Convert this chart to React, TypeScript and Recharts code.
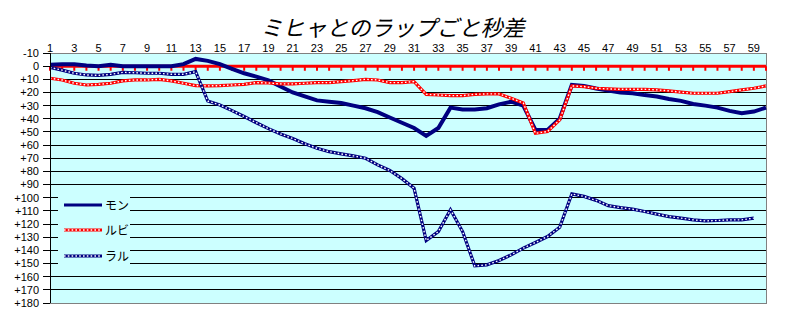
import React from 'react';
import {
    LineChart,
    Line,
    XAxis,
    YAxis,
    CartesianGrid,
    ReferenceLine,
    ReferenceArea,
    Legend,
} from 'recharts';

// lap numbers (category axis)
const LAPS = [
    1, 2, 3, 4, 5, 6, 7, 8, 9, 10, 11, 12, 13, 14, 15, 16, 17, 18, 19, 20,
    21, 22, 23, 24, 25, 26, 27, 28, 29, 30, 31, 32, 33, 34, 35, 36, 37, 38, 39, 40,
    41, 42, 43, 44, 45, 46, 47, 48, 49, 50, 51, 52, 53, 54, 55, 56, 57, 58, 59, 60,
];

// gap to ミヒャ in seconds, per lap
const MON = [
    -1, -1.5, -1.5, -0.5, 0, -1, 0, 0, 0, 0, 0, -1.5, -5.5, -4, -1.5, 2, 5.4, 8, 10.8, 15.5,
    20, 23, 26, 27, 28, 30, 32, 35, 39, 43, 47, 53, 47, 31.5, 33, 33, 32, 29, 27, 30,
    48.5, 48.5, 40, 14.3, 15, 17, 18.6, 20, 20.6, 22, 23, 25, 26.4, 28.7, 30, 31.5, 34, 35.8, 34.5, 31.5,
];

const RUBI = [
    9.2, 10.5, 13, 14.3, 13.8, 13, 11.2, 10.5, 10.5, 10, 11.2, 13, 14.8, 15, 14.8, 14.3, 13.8, 12.5, 12.8, 13.5,
    13.5, 13, 12.5, 12.5, 11.7, 11, 10, 10.5, 12.5, 12.5, 11.7, 21.4, 21.9, 22.4, 22.4, 21.4, 21.1, 21.1, 24.4, 28,
    51, 49.7, 40.9, 15, 15.5, 16.8, 17.3, 17.6, 17.6, 17.6, 18, 18.8, 19.8, 20.6, 20.6, 20.6, 19.4, 18, 16.8, 15,
];

const RARU = [
    1, 3, 5.4, 6.7, 7, 6.2, 4.7, 5, 5.4, 5.4, 6.2, 6.2, 4.2, 26.5, 29.5, 33.8, 38.3, 43, 47.5, 51.5,
    55, 59, 62.4, 65, 66.7, 68.2, 70, 75, 79.3, 85.5, 92.8, 132.5, 125.7, 109.2, 125.7, 151.8, 151, 147.7, 143.4, 138.3,
    134, 129.5, 122.4, 97.1, 99, 102, 106, 107.5, 108.7, 110.5, 112.5, 114.3, 115.5, 116.8, 117.6, 117.3, 116.8, 116.8, 115.5,
];

const Y_TICKS = [-10, 0, 10, 20, 30, 40, 50, 60, 70, 80, 90, 100, 110, 120, 130, 140, 150, 160, 170, 180];

const TITLE = 'ミヒャとのラップごと秒差';

const SERIES = [
    { key: 'mon', name: 'モン', color: '#000080', dotted: false },
    { key: 'rubi', name: 'ルビ', color: '#FF0000', dotted: true },
    { key: 'raru', name: 'ラル', color: '#000080', dotted: true },
];

const data = LAPS.map((lap, i) => ({
    lap,
    mon: MON[i],
    rubi: RUBI[i],
    raru: RARU[i] ?? null,
}));

const AXIS_FONT = { fontSize: 11, fill: '#000', fontFamily: 'Liberation Sans, Arial, sans-serif' };

const formatGap = (v: number) => (v > 0 ? `+${v}` : `${v}`);

const renderLegend = () => (
    <div style={{ paddingTop: 2 }}>
        {SERIES.map((s) => (
            <div key={s.key} style={{ display: 'flex', alignItems: 'center', height: 25.5 }}>
                <svg width={44} height={8} style={{ display: 'block' }}>
                    <line x1={6} y1={4} x2={44} y2={4} stroke={s.color} strokeWidth={3.2} />
                    {s.dotted && (
                        <line x1={6} y1={4} x2={44} y2={4} stroke="#fff" strokeWidth={1.4} strokeDasharray="1.6 2.2" />
                    )}
                </svg>
                <span
                    style={{
                        marginLeft: 3,
                        fontSize: 12,
                        lineHeight: '12px',
                        color: '#000',
                        fontFamily: '"Noto Sans CJK JP", sans-serif',
                    }}
                >
                    {s.name}
                </span>
            </div>
        ))}
    </div>
);

const App: React.FC = () => {
    return (
        <div style={{ position: 'relative', width: 785, height: 327, background: '#fff' }}>
            <style>{'body{margin:0}'}</style>
            <div
                style={{
                    position: 'absolute',
                    left: 0,
                    width: 785,
                    top: 15,
                    textAlign: 'center',
                    fontSize: 22,
                    lineHeight: '22px',
                    fontStyle: 'italic',
                    fontFamily: '"Noto Sans CJK JP", sans-serif',
                    color: '#000',
                    zIndex: 1,
                }}
            >
                {TITLE}
            </div>
            <LineChart
                width={785}
                height={327}
                data={data}
                margin={{ top: 0, right: 19, bottom: 24, left: 0 }}
            >
                <CartesianGrid vertical={false} stroke="#000" fill="#CCFFFF" fillOpacity={1} shapeRendering="crispEdges" />
                <XAxis
                    dataKey="lap"
                    type="category"
                    orientation="top"
                    height={53}
                    interval={1}
                    axisLine={false}
                    tickLine={false}
                    tickSize={0}
                    tickMargin={1}
                    tick={AXIS_FONT}
                />
                <YAxis
                    type="number"
                    domain={[-10, 180]}
                    ticks={Y_TICKS}
                    reversed
                    interval={0}
                    width={50}
                    axisLine={{ stroke: '#000', shapeRendering: 'crispEdges' }}
                    tickLine={{ stroke: '#000', shapeRendering: 'crispEdges' }}
                    tickSize={7}
                    tickMargin={4}
                    tick={AXIS_FONT}
                    tickFormatter={formatGap}
                />
                <ReferenceArea y1={-10} y2={180} fill="none" stroke="#808080" strokeWidth={1} shapeRendering="crispEdges" />
                <ReferenceLine y={0} stroke="#FF0000" strokeWidth={3} />
                {LAPS.map((lap) => (
                    <ReferenceLine
                        key={`t${lap}`}
                        segment={[{ x: lap, y: 0 }, { x: lap, y: 3.5 }]}
                        stroke="#FF0000"
                        strokeWidth={2}
                    />
                ))}

                <Line dataKey="mon" name="モン" type="linear" stroke="#000080" strokeWidth={4} dot={false} isAnimationActive={false} />

                <Line dataKey="rubi" name="ルビ" type="linear" stroke="#FF0000" strokeWidth={3.2} dot={false} isAnimationActive={false} />
                <Line dataKey="rubi" type="linear" stroke="#FFFFFF" strokeWidth={1.4} strokeDasharray="1.6 2.2" dot={false} isAnimationActive={false} legendType="none" />

                <Line dataKey="raru" name="ラル" type="linear" stroke="#000080" strokeWidth={3.2} dot={false} isAnimationActive={false} />
                <Line dataKey="raru" type="linear" stroke="#FFFFFF" strokeWidth={1.4} strokeDasharray="1.6 2.2" dot={false} isAnimationActive={false} legendType="none" />

                <Legend
                    layout="vertical"
                    align="center"
                    verticalAlign="middle"
                    content={renderLegend}
                    wrapperStyle={{ left: 58, top: 190, width: 72, height: 78, backgroundColor: '#CCFFFF' }}
                />
            </LineChart>
        </div>
    );
};

export default App;
